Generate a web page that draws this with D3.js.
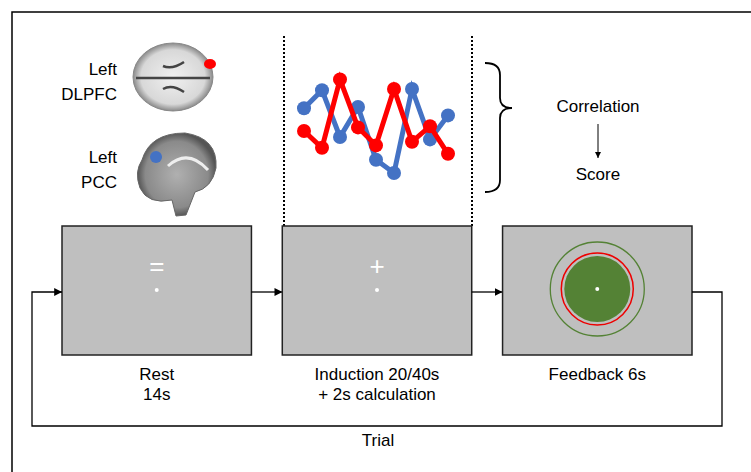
<!DOCTYPE html>
<html><head><meta charset="utf-8">
<script src="https://cdn.jsdelivr.net/npm/d3@7"></script>
<style>body{margin:0;background:#fff}text{font-family:Arial,"Liberation Sans",sans-serif;font-size:17px;fill:#000}</style>
</head><body>
<svg id="c" width="751" height="472"></svg>
<script>
// Signal samples (arbitrary units)
var samples = [1, 2, 3, 4, 5, 6, 7, 8, 9];
var pccSignal = [64, 79, 40, 65, 21, 10, 80, 38, 58];
var dlpfcSignal = [45, 31, 88, 48, 33, 80, 36, 49, 26];
var stages = ['Rest', 'Induction', 'Feedback'];
var stageLabels = [['Rest', '14s'], ['Induction 20/40s', '+ 2s calculation'], ['Feedback 6s']];

var svg = d3.select('#c');
svg.append('rect').attr('x', 12).attr('y', 12).attr('width', 760).attr('height', 480)
  .attr('fill', 'none').attr('stroke', '#000').attr('stroke-width', 1.5);

var defs = svg.append('defs');
defs.append('marker').attr('id', 'ar').attr('viewBox', '0 0 10 10').attr('refX', 10).attr('refY', 5)
  .attr('markerWidth', 6).attr('markerHeight', 6).attr('orient', 'auto')
  .append('path').attr('d', 'M0,0L10,5L0,10z').attr('fill', '#000');
var g1 = defs.append('radialGradient').attr('id', 'brain');
g1.append('stop').attr('offset', '0%').attr('stop-color', '#f0f0f0');
g1.append('stop').attr('offset', '80%').attr('stop-color', '#d8d8d8');
g1.append('stop').attr('offset', '100%').attr('stop-color', '#8a8a8a');
var g2 = defs.append('radialGradient').attr('id', 'brain2');
g2.append('stop').attr('offset', '0%').attr('stop-color', '#b0b0b0');
g2.append('stop').attr('offset', '80%').attr('stop-color', '#8a8a8a');
g2.append('stop').attr('offset', '100%').attr('stop-color', '#555');

// Brains
svg.append('ellipse').attr('cx', 173).attr('cy', 77).attr('rx', 40).attr('ry', 34).attr('fill', 'url(#brain)').attr('stroke', '#888');
svg.append('path').attr('d', 'M163,66 Q172,70 184,62 M163,89 Q172,84 184,92 M136,78 L210,78')
  .attr('stroke', '#444').attr('stroke-width', 2.5).attr('fill', 'none');
svg.append('path').attr('d', 'M142,160 Q150,133 185,133 Q218,138 216,168 Q212,188 195,192 L186,215 L176,216 L172,200 Q148,205 140,188 Q134,172 142,160Z')
  .attr('fill', 'url(#brain2)').attr('stroke', '#666');
svg.append('path').attr('d', 'M168,166 Q188,148 208,170').attr('stroke', '#eee').attr('stroke-width', 3).attr('fill', 'none');
svg.append('ellipse').attr('cx', 210).attr('cy', 64).attr('rx', 6).attr('ry', 5).attr('fill', '#f00');
svg.append('circle').attr('cx', 156).attr('cy', 157).attr('r', 6).attr('fill', '#4472c4');
[['Left', 'DLPFC'], ['Left', 'PCC']].forEach(function (d, i) {
  var y = i ? 163 : 75;
  svg.append('text').attr('x', 117).attr('y', y).attr('text-anchor', 'end').text(d[0]);
  svg.append('text').attr('x', 117).attr('y', y + 25).attr('text-anchor', 'end').text(d[1]);
});

// Dotted separators
[284, 472].forEach(function (x) {
  svg.append('line').attr('x1', x).attr('x2', x).attr('y1', 36).attr('y2', 226)
    .attr('stroke', '#000').attr('stroke-width', 2).attr('stroke-dasharray', '2,2');
});

// Time series
var x = d3.scaleLinear().domain([1, 9]).range([304, 448]);
var y = d3.scaleLinear().domain([0, 100]).range([185, 65]);
var line = d3.line().x(function (d, i) { return x(samples[i]); }).y(function (d) { return y(d); });
[[pccSignal, '#4472c4'], [dlpfcSignal, '#ff0000']].forEach(function (s) {
  svg.append('path').datum(s[0]).attr('d', line).attr('fill', 'none').attr('stroke', s[1]).attr('stroke-width', 5);
  svg.selectAll(null).data(s[0]).join('circle').attr('cx', function (d, i) { return x(samples[i]); })
    .attr('cy', y).attr('r', 7).attr('fill', s[1]);
});

// Brace, correlation -> score
svg.append('path').attr('d', 'M485,63 Q500,63 500,75 L500,98 Q500,108 512,108 Q500,108 500,118 L500,180 Q500,192 485,192')
  .attr('fill', 'none').attr('stroke', '#000').attr('stroke-width', 1.8);
svg.append('text').attr('x', 598).attr('y', 112).attr('text-anchor', 'middle').text('Correlation');
svg.append('line').attr('x1', 598).attr('x2', 598).attr('y1', 124).attr('y2', 158).attr('stroke', '#000').attr('marker-end', 'url(#ar)');
svg.append('text').attr('x', 598).attr('y', 180).attr('text-anchor', 'middle').text('Score');

// Stage boxes
var bx = d3.scaleBand().domain(stages).range([62, 692]).paddingInner(0.14);
stages.forEach(function (s, i) {
  var x0 = bx(s), w = bx.bandwidth(), cx = x0 + w / 2;
  svg.append('rect').attr('x', x0).attr('y', 226).attr('width', w).attr('height', 129)
    .attr('fill', '#bfbfbf').attr('stroke', '#222').attr('stroke-width', 1.5);
  stageLabels[i].forEach(function (t, j) {
    svg.append('text').attr('x', cx).attr('y', 380 + j * 20).attr('text-anchor', 'middle').text(t);
  });
  if (i < 2) {
    svg.append('text').attr('x', cx).attr('y', 275).attr('text-anchor', 'middle')
      .style('fill', '#fff').style('font-size', '26px').text(i ? '+' : '=');
    svg.append('circle').attr('cx', cx).attr('cy', 290).attr('r', 2).attr('fill', '#fff');
    svg.append('line').attr('x1', x0 + w).attr('x2', bx(stages[i + 1])).attr('y1', 292).attr('y2', 292)
      .attr('stroke', '#000').attr('stroke-width', 1.3).attr('marker-end', 'url(#ar)');
  } else {
    svg.append('circle').attr('cx', cx).attr('cy', 289).attr('r', 47).attr('fill', 'none').attr('stroke', '#548235').attr('stroke-width', 1.3);
    svg.append('circle').attr('cx', cx).attr('cy', 289).attr('r', 36).attr('fill', 'none').attr('stroke', '#e00').attr('stroke-width', 1.5);
    svg.append('circle').attr('cx', cx).attr('cy', 289).attr('r', 33).attr('fill', '#548235');
    svg.append('circle').attr('cx', cx).attr('cy', 289).attr('r', 2).attr('fill', '#fff');
  }
});

// Trial loop
svg.append('path').attr('d', 'M692,292 L722,292 L722,426 L32,426 L32,292 L62,292')
  .attr('fill', 'none').attr('stroke', '#000').attr('stroke-width', 1.3).attr('marker-end', 'url(#ar)');
svg.append('text').attr('x', 378).attr('y', 446).attr('text-anchor', 'middle').text('Trial');
</script></body></html>
